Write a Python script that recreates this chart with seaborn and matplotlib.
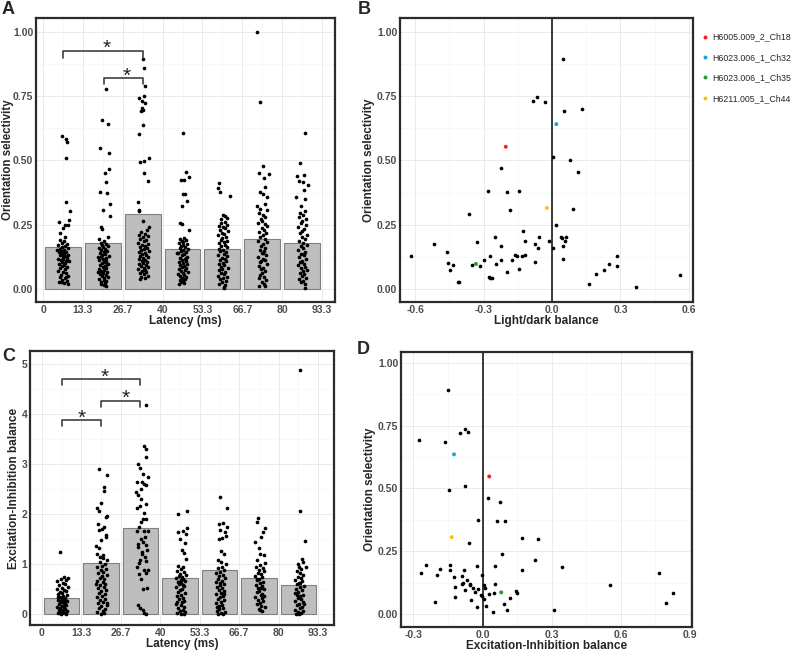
import pandas as pd
import seaborn as sns
import matplotlib.pyplot as plt
from matplotlib.ticker import FixedLocator

sns.set_theme(style="white")
plt.rcParams['font.family'] = ['Liberation Sans', 'DejaVu Sans']

# ---------------- data ----------------
bin_centers = [6.67, 20, 33.33, 46.67, 60, 73.33, 86.67]
lat_ticks = [0, 13.33, 26.67, 40, 53.33, 66.67, 80, 93.33]
lat_labels = ['0', '13.3', '26.7', '40', '53.3', '66.7', '80', '93.3']

os_means = [0.163, 0.177, 0.290, 0.157, 0.157, 0.196, 0.177]
ei_means = [0.32, 1.03, 1.72, 0.73, 0.88, 0.73, 0.59]

# (jitter offset in ms, value) per latency bin, orientation selectivity
os_bin1 = [(-0.5,.596),(0.9,.583),(1.3,.570),(0.9,.509),(0.9,.338),(2.2,.303),(1.9,.269),(-1.4,.259),(0.5,.247),(0.0,.236),(1.8,.250),(-0.9,.218),(0.8,.202),
           (-1.2,.190),(0.3,.185),(-0.5,.178),(1.2,.175),(-1.8,.170),(0.6,.168),(-0.2,.162),(1.5,.160),(-1.0,.155),(0.2,.152),(-0.6,.148),(1.0,.145),(-1.5,.142),(0.4,.140),(-0.3,.135),(1.7,.132),(-1.1,.130),(0.7,.127),(-0.1,.124),(1.3,.120),(-1.6,.118),(0.1,.115),(-0.8,.112),(1.1,.108),(-0.4,.105),(0.8,.100),(-1.3,.097),(0.3,.093),(-0.2,.088),(1.4,.085),(-0.9,.080),(0.5,.076),(-1.7,.070),(0.0,.066),(1.0,.060),(-0.6,.055),(1.6,.050),(-1.1,.046),(0.6,.042),(-0.3,.035),(1.2,.030),(-1.4,.026),(0.2,.022),(1.5,.020),(-0.7,.028),(0.9,.045),(-1.9,.150),(1.9,.110)]
os_bin2 = [(1.1,.778),(-0.2,.658),(1.7,.640),(-0.9,.549),(2.2,.530),(2.1,.465),(0.7,.451),(1.2,.417),(-1.1,.377),(1.5,.373),(2.3,.332),(0.0,.307),(2.3,.285),(-0.7,.242),(-0.4,.233),(1.8,.203),(-1.3,.194),
           (0.4,.185),(-0.8,.180),(1.0,.176),(-0.3,.172),(1.6,.168),(0.1,.164),(-1.2,.160),(0.8,.156),(-0.5,.150),(1.3,.147),(0.2,.143),(-1.0,.139),(0.6,.135),(-0.2,.131),(1.9,.128),(-0.7,.124),(0.9,.120),(0.0,.116),(-1.4,.112),(1.2,.108),(0.4,.104),(-0.4,.100),(1.5,.097),(-0.9,.093),(0.7,.090),(-0.1,.086),(1.1,.082),(-1.3,.078),(0.3,.074),(-0.6,.070),(1.4,.066),(0.0,.062),(-1.0,.058),(0.9,.054),(-0.3,.050),(1.7,.046),(0.5,.042),(-1.2,.038),(0.2,.034),(1.0,.030),(-0.5,.026),(0.7,.022),(-0.8,.018),(0.3,.014),(1.2,.010),(-1.5,.125),(1.8,.095),(-1.7,.065)]
os_bin3 = [(0.2,.896),(0.4,.860),(0.9,.790),(-1.3,.742),(0.4,.750),(-0.4,.732),(0.9,.722),(-0.2,.702),(-0.6,.693),(0.2,.697),(0.2,.636),(-1.3,.602),(2.0,.509),(-0.9,.495),(0.4,.497),(0.3,.451),(1.7,.421),(-1.5,.338),(-1.1,.308),(-1.3,.302),(0.2,.266),(2.1,.241),
           (1.5,.228),(-0.5,.222),(0.8,.215),(-1.2,.210),(1.9,.205),(0.1,.200),(-0.8,.195),(1.2,.190),(0.5,.185),(-1.5,.180),(1.6,.176),(-0.2,.172),(0.9,.168),(-1.0,.164),(1.3,.160),(0.3,.156),(-0.6,.152),(2.0,.148),(-1.4,.144),(0.6,.140),(-0.1,.136),(1.1,.132),(-0.9,.128),(1.7,.124),(0.2,.120),(-1.3,.116),(0.8,.112),(-0.4,.108),(1.4,.104),(0.0,.100),(-1.1,.096),(1.0,.092),(-0.7,.088),(1.8,.084),(0.4,.080),(-1.6,.076),(0.7,.072),(-0.3,.068),(1.2,.064),(-1.0,.060),(0.5,.056),(1.6,.052),(-0.5,.048),(0.9,.044),(-0.8,.040)]
os_bin4 = [(0.2,.605),(1.3,.453),(-0.4,.425),(0.4,.422),(2.3,.435),(0.3,.368),(0.9,.368),(1.6,.341),(-0.3,.321),(-0.9,.256),(-0.3,.253),(2.0,.231),
           (0.6,.198),(-0.8,.193),(1.2,.190),(-0.2,.186),(0.3,.182),(-1.3,.178),(1.5,.174),(0.0,.170),(-0.6,.166),(0.9,.162),(-1.0,.158),(1.8,.154),(0.2,.150),(-0.4,.146),(1.1,.142),(-1.5,.138),(0.5,.134),(-0.1,.130),(1.4,.126),(-0.9,.122),(0.7,.118),(-0.3,.114),(1.0,.110),(-1.2,.106),(0.1,.102),(1.6,.098),(-0.7,.094),(0.4,.090),(-0.2,.086),(1.2,.082),(-1.1,.078),(0.8,.074),(-0.5,.070),(1.9,.066),(0.0,.062),(-1.4,.058),(0.6,.054),(-0.8,.050),(1.3,.046),(-0.3,.042),(0.9,.038),(-1.0,.034),(0.3,.030),(-0.6,.026),(0.5,.022),(-1.3,.018),(1.1,.120),(-1.7,.140)]
os_bin5 = [(-1.1,.413),(-1.6,.392),(-0.9,.376),(2.5,.363),(0.3,.288),(1.0,.282),(-0.6,.270),(1.7,.276),
           (0.8,.262),(-0.4,.255),(1.5,.250),(-1.2,.245),(0.2,.240),(1.0,.235),(-0.8,.230),(1.8,.224),(-0.1,.218),(0.6,.213),(-1.5,.208),(1.2,.202),(0.0,.197),(-0.6,.192),(1.6,.187),(0.4,.182),(-1.0,.177),(0.9,.172),(-0.3,.167),(1.4,.162),(-1.3,.157),(0.1,.152),(-0.7,.147),(1.1,.142),(0.5,.137),(-1.6,.132),(1.7,.127),(-0.2,.122),(0.8,.117),(-0.9,.112),(1.3,.107),(0.2,.102),(-1.2,.097),(0.6,.092),(-0.5,.087),(1.9,.082),(0.0,.077),(-1.0,.072),(1.0,.067),(-0.4,.062),(0.7,.057),(-1.4,.052),(1.5,.047),(0.3,.042),(-0.8,.037),(1.2,.032),(-0.2,.027),(-1.1,.020),(0.9,.015),(0.4,.008),(0.6,.002)]
os_bin6 = [(-1.6,1.0),(-0.9,.728),(0.3,.479),(-1.0,.451),(2.2,.448),(0.7,.433),(0.9,.396),(-0.8,.376),(0.2,.370),(1.6,.358),(0.8,.329),(-1.7,.321),(-0.7,.312),(1.6,.307),
           (-1.2,.295),(0.4,.288),(1.1,.280),(-0.5,.272),(0.0,.265),(-1.5,.258),(0.9,.251),(1.7,.244),(-0.2,.237),(0.5,.230),(-1.0,.223),(1.3,.216),(0.1,.209),(-0.7,.202),(0.8,.195),(-1.3,.188),(1.5,.181),(0.3,.174),(-0.4,.167),(1.0,.160),(-0.9,.153),(0.6,.146),(-0.1,.139),(1.2,.132),(-1.4,.125),(0.2,.118),(0.9,.111),(-0.6,.104),(1.6,.097),(-1.1,.090),(0.4,.083),(-0.3,.076),(1.1,.069),(0.0,.062),(-0.8,.055),(0.7,.048),(-1.2,.041),(1.4,.034),(-0.2,.027),(0.5,.020),(-1.0,.013),(0.9,.013),(0.1,.140),(-0.5,.110)]
os_bin7 = [(0.9,.605),(-0.7,.488),(-1.7,.440),(0.8,.443),(-0.9,.418),(2.0,.405),(0.4,.415),(0.7,.383),(-2.1,.357),(1.1,.350),(-0.2,.321),
           (1.0,.305),(-0.6,.295),(0.3,.287),(-1.1,.280),(1.4,.272),(0.0,.264),(-0.4,.256),(1.2,.248),(-1.3,.240),(0.6,.232),(0.1,.224),(-0.8,.216),(1.5,.208),(-0.1,.200),(0.9,.193),(-1.0,.186),(0.4,.179),(1.7,.172),(-0.5,.165),(0.2,.158),(-1.4,.151),(1.1,.144),(-0.2,.137),(0.7,.130),(-0.9,.123),(1.3,.116),(0.0,.110),(-0.6,.104),(0.5,.098),(-1.2,.092),(1.0,.086),(-0.3,.080),(1.6,.074),(0.2,.068),(-0.8,.062),(0.8,.056),(-0.1,.050),(1.2,.044),(-1.0,.038),(0.4,.032),(-0.4,.025),(0.9,.018),(1.0,.003),(-0.5,.105),(0.6,.135)]

# (jitter offset in ms, value) per latency bin, excitation-inhibition balance
ei_bin1 = [(-0.6,1.24),(0.9,.74),(2.1,.73),(-0.3,.70),(1.6,.68),(-1.4,.66),(0.4,.63),(1.2,.60),(-0.8,.58),(2.0,.55),(0.0,.53),(-1.6,.50),(0.8,.48),(1.5,.46),(-0.4,.44),(0.2,.42),(-1.1,.40),(1.9,.38),(0.6,.36),(-0.7,.34),(1.1,.32),(0.1,.30),(-1.3,.29),(1.7,.27),(0.5,.25),(-0.2,.24),(0.9,.22),(-0.9,.20),(1.4,.19),(0.3,.17),(-1.5,.15),(0.7,.14),(-0.4,.12),(1.2,.11),(0.0,.09),(-1.0,.08),(1.8,.07),(0.5,.05),(-0.6,.04),(1.0,.03),(-1.3,.02),(0.2,.015),(1.5,.01),(-0.1,.005),(0.8,.28),(-0.5,.26),(1.3,.21),(-1.2,.35)]
ei_bin2 = [(-0.8,2.90),(2.0,2.78),(1.1,2.55),(1.0,2.46),(0.0,2.22),(-1.5,2.13),(-0.8,2.06),(1.6,1.95),(2.1,1.97),(-1.0,1.80),(1.1,1.75),(-0.8,1.68),(0.3,1.70),(1.7,1.58),(0.0,1.49),(-1.6,1.36),(-0.8,1.32),(-1.2,1.20),(0.8,1.19),(2.0,1.09),
           (-0.4,1.04),(1.2,1.00),(0.3,0.97),(-1.3,0.94),(1.6,0.91),(-0.1,0.88),(0.7,0.85),(-0.9,0.82),(1.9,0.79),(0.2,0.76),(-0.5,0.73),(1.1,0.70),(-1.5,0.67),(0.5,0.64),(1.4,0.61),(-0.2,0.58),(0.9,0.55),(-1.1,0.52),(1.7,0.49),(0.0,0.46),(-0.7,0.43),(1.2,0.40),(0.4,0.37),(-1.4,0.34),(1.5,0.31),(-0.3,0.28),(0.8,0.25),(-1.0,0.22),(1.9,0.19),(0.1,0.16),(-0.6,0.13),(1.3,0.10),(0.6,0.07),(-1.2,0.04),(0.9,0.02),(-0.1,0.0),(1.6,1.55),(-0.3,1.15),(0.5,1.12),(-1.7,0.60),(2.1,0.22)]
ei_bin3 = [(1.7,4.18),(1.2,3.36),(1.8,3.30),(2.0,3.14),(-0.8,3.0),(-0.2,2.93),(2.4,2.74),(-1.3,2.65),(0.6,2.64),(1.1,2.60),(2.0,2.58),(0.1,2.50),(-0.8,2.38),(2.0,2.21),(-1.3,2.13),(-0.1,2.16),(1.2,2.02),(0.8,1.90),(1.7,1.90),(-1.1,1.66),(1.3,1.66),(2.4,1.66),(0.1,1.50),(0.9,1.45),(-1.0,1.41),(2.2,1.29),(0.6,1.25),(-0.1,1.09),(1.7,1.07),(-1.2,0.95),(1.1,0.88),(2.4,0.88),(-0.6,0.80),(1.7,0.83),(0.9,0.51),(2.2,0.53),(-1.0,0.19),(-0.2,0.13),(1.0,0.09),(1.3,0.03),(2.0,0.01),
           (0.3,1.85),(-0.5,1.75),(1.5,1.55),(-0.9,1.35),(0.4,1.20),(1.4,1.15),(-0.4,1.02),(0.2,0.70),(1.9,1.38),(-1.4,2.45),(0.8,2.80),(0.3,2.30)]
ei_bin4 = [(-0.6,2.0),(2.5,2.06),(0.9,1.66),(-0.6,1.65),(2.4,1.72),(2.1,1.60),(0.0,1.50),(1.7,1.43),(0.6,1.28),(1.5,1.23),(2.2,1.10),(-0.6,0.97),(0.9,0.95),
           (0.3,0.90),(-1.1,0.87),(1.3,0.84),(0.0,0.81),(1.9,0.78),(-0.5,0.76),(0.7,0.74),(-1.4,0.72),(1.1,0.70),(0.2,0.68),(1.6,0.66),(-0.8,0.64),(0.5,0.62),(-0.2,0.60),(1.4,0.57),(-1.2,0.54),(0.8,0.51),(0.1,0.48),(-0.6,0.45),(1.7,0.42),(0.4,0.39),(-1.0,0.36),(1.0,0.33),(-0.3,0.30),(1.5,0.27),(0.6,0.24),(-1.3,0.21),(0.2,0.18),(1.2,0.15),(-0.7,0.12),(0.9,0.09),(-0.1,0.06),(1.8,0.04),(-1.1,0.02),(0.4,0.01),(1.3,0.00),(-0.4,0.65),(1.0,0.58),(-0.9,0.25)]
ei_bin5 = [(0.1,2.34),(2.5,2.12),(-0.2,1.80),(1.2,1.82),(2.4,1.74),(0.1,1.68),(1.9,1.65),(2.1,1.56),(1.0,1.53),(-0.3,1.50),(1.5,1.21),(0.6,1.27),(0.5,1.05),(-0.4,1.08),(2.1,1.01),
           (0.9,0.95),(-0.6,0.92),(1.5,0.88),(0.2,0.85),(-1.1,0.82),(1.2,0.79),(0.0,0.76),(1.8,0.73),(-0.4,0.70),(0.7,0.67),(-1.3,0.64),(1.4,0.61),(0.3,0.58),(-0.8,0.55),(1.0,0.52),(-0.1,0.49),(1.7,0.46),(0.5,0.43),(-1.0,0.40),(1.1,0.37),(0.1,0.34),(-0.6,0.31),(1.6,0.28),(0.4,0.25),(-1.2,0.22),(0.8,0.19),(-0.3,0.16),(1.3,0.13),(0.0,0.10),(-0.9,0.07),(1.9,0.05),(0.6,0.03),(-0.5,0.01),(1.1,0.00),(0.3,0.62),(1.4,0.40),(-0.7,0.15)]
ei_bin6 = [(-0.3,1.92),(-0.8,1.84),(2.2,1.73),(1.5,1.64),(0.6,1.54),(-1.3,1.45),(0.2,1.32),(0.3,1.21),(1.6,1.18),(-0.7,1.09),(2.0,1.03),
           (0.5,0.98),(-0.9,0.95),(1.3,0.92),(0.0,0.89),(1.8,0.86),(-0.4,0.83),(0.8,0.80),(-1.2,0.77),(1.1,0.74),(0.2,0.71),(-0.6,0.68),(1.5,0.65),(0.4,0.62),(-1.0,0.59),(0.9,0.56),(-0.2,0.53),(1.7,0.50),(0.1,0.47),(-0.8,0.44),(1.2,0.41),(0.6,0.38),(-1.4,0.35),(1.0,0.32),(-0.3,0.29),(1.4,0.26),(0.3,0.23),(-0.7,0.20),(0.8,0.17),(1.9,0.14),(-0.1,0.11),(0.5,0.08),(1.2,0.06),(-0.5,0.70),(0.7,0.52),(1.6,0.36)]
ei_bin7 = [(0.7,4.89),(0.7,2.06),(2.4,1.47),(1.3,1.11),(1.7,1.04),(-0.3,1.01),(0.3,0.94),(2.5,0.95),
           (1.0,0.90),(-0.6,0.86),(0.5,0.82),(1.6,0.78),(-0.1,0.75),(0.9,0.72),(-1.0,0.69),(1.3,0.66),(0.2,0.63),(-0.5,0.60),(1.8,0.57),(0.7,0.54),(-0.8,0.51),(1.1,0.48),(0.0,0.45),(-1.2,0.42),(1.5,0.39),(0.4,0.36),(-0.3,0.33),(0.9,0.30),(-1.0,0.27),(1.7,0.24),(0.1,0.21),(-0.6,0.18),(1.2,0.15),(0.6,0.12),(-1.3,0.09),(1.4,0.07),(-0.2,0.05),(0.8,0.03),(-0.9,0.01),(0.3,0.00),(1.9,0.20),(-0.4,0.38),(0.5,0.62)]

# (light/dark balance, orientation selectivity)
ld_points = [(0.050,.896),(-0.082,.732),(-0.067,.745),(-0.032,.727),(0.054,.693),(0.133,.698),(0.003,.514),(0.080,.501),(-0.226,.470),(0.115,.455),
             (-0.283,.381),(-0.199,.377),(-0.144,.382),(-0.185,.307),(0.092,.310),(-0.364,.291),(0.015,.249),(-0.128,.224),(-0.517,.175),(-0.328,.184),
             (-0.251,.202),(-0.118,.187),(-0.057,.203),(-0.077,.174),(-0.061,.161),(-0.015,.185),(-0.223,.165),(0.039,.201),(0.045,.197),(0.061,.203),
             (0.055,.188),(0.003,.159),(0.050,.165),(-0.459,.145),(-0.618,.127),(-0.274,.128),(-0.162,.131),(-0.153,.128),(-0.130,.127),(-0.118,.131),
             (-0.299,.111),(-0.222,.111),(-0.174,.113),(0.048,.118),(-0.077,.104),(-0.455,.102),(-0.433,.093),(-0.449,.075),(-0.351,.093),(-0.318,.088),
             (-0.244,.095),(-0.146,.076),(-0.197,.067),(-0.277,.048),(-0.274,.041),(-0.262,.044),(-0.414,.028),(-0.410,.026),(0.283,.128),(0.284,.089),
             (0.251,.098),(0.229,.074),(0.191,.058),(0.163,.019),(0.367,.008),(0.563,.054)]

# (excitation-inhibition balance, orientation selectivity)
ei_points = [(-0.149,.892),(-0.275,.693),(-0.162,.686),(-0.097,.721),(-0.075,.739),(-0.062,.725),(-0.075,.508),(-0.145,.493),(0.025,.461),(0.077,.447),
             (-0.019,.374),(0.062,.372),(0.097,.370),(-0.061,.283),(0.173,.301),(0.240,.299),(0.085,.239),(0.228,.214),(0.344,.186),(0.171,.174),
             (0.056,.191),(-0.023,.190),(-0.247,.194),(-0.266,.164),(-0.186,.178),(-0.198,.154),(-0.143,.194),(-0.142,.176),(-0.081,.176),(-0.126,.149),
             (-0.090,.150),(-0.068,.134),(-0.088,.118),(-0.084,.122),(-0.056,.120),(-0.053,.116),(-0.042,.102),(-0.033,.089),(-0.075,.094),(-0.120,.108),
             (-0.120,.066),(-0.019,.101),(-0.003,.154),(0.007,.116),(0.012,.102),(-0.007,.077),(-0.001,.072),(0.007,.061),(0.029,.078),(0.048,.084),
             (0.056,.118),(0.146,.092),(0.149,.082),(0.120,.064),(0.092,.041),(0.107,.015),(0.046,.008),(0.014,.032),(-0.025,.029),(-0.052,.056),
             (-0.207,.048),(0.311,.016),(0.553,.117),(0.766,.165),(0.827,.082),(0.798,.044)]

# highlighted example neurons
neurons = ['H6005.009_2_Ch18', 'H6023.006_1_Ch32', 'H6023.006_1_Ch35', 'H6211.005_1_Ch44']
neuron_colors = ['#ff1a1a', '#1e9be8', '#1a9e2e', '#ffbf00']
neuron_ld = [-0.203, 0.019, -0.334, -0.023]
neuron_ei = [0.029, -0.124, 0.081, -0.134]
neuron_os_b = [0.553, 0.641, 0.097, 0.315]
neuron_os_d = [0.548, 0.636, 0.086, 0.306]

os_bins = [os_bin1, os_bin2, os_bin3, os_bin4, os_bin5, os_bin6, os_bin7]
ei_bins = [ei_bin1, ei_bin2, ei_bin3, ei_bin4, ei_bin5, ei_bin6, ei_bin7]

LAB = dict(fontsize=8.5, fontweight='bold')


def strip_frame(groups):
    rows = [(c + dx, v) for c, g in zip(bin_centers, groups) for dx, v in g]
    return pd.DataFrame(rows, columns=['latency', 'value'])


def style(ax):
    ax.set_facecolor('white')
    for s in ax.spines.values():
        s.set_color('#2b2b2b')
        s.set_linewidth(1.6)
    ax.grid(True, which='major', color='#ebebeb', lw=0.7)
    ax.grid(True, which='minor', color='#f5f5f5', lw=0.5)
    ax.set_axisbelow(True)
    ax.tick_params(which='major', labelsize=7.5, labelcolor='#4d4d4d', length=1.2,
                   width=0.6, color='#4d4d4d', pad=0.8)
    ax.tick_params(which='minor', length=0)
    for lab in ax.get_xticklabels() + ax.get_yticklabels():
        lab.set_fontweight('bold')


def bracket(ax, x1, x2, y, tip, sx, sy):
    ax.plot([x1, x1, x2, x2], [y - tip, y, y, y - tip], color='#404040', lw=1.2)
    ax.annotate('*', (sx, sy), xytext=(0, -8), textcoords='offset points',
                ha='center', va='baseline', fontsize=15, color='#222222')


def latency_panel(ax, groups, means, ylabel):
    sns.barplot(x=bin_centers, y=means, native_scale=True, width=0.9, color='#bebebe',
                edgecolor='#808080', linewidth=0.8, saturation=1, errorbar=None, ax=ax)
    df = strip_frame(groups)
    sns.scatterplot(data=df, x='latency', y='value', color='black', s=7, linewidth=0, ax=ax)
    ax.set_xticks(lat_ticks, lat_labels)
    ax.xaxis.set_minor_locator(FixedLocator(bin_centers))
    ax.set_xlabel('Latency (ms)', labelpad=0.5, **LAB)
    ax.set_ylabel(ylabel, labelpad=1, **LAB)


fig = plt.figure(figsize=(8, 6.52), dpi=100)
ax_a = fig.add_axes([36/800, 1 - 302/652, 299/800, 284/652])
ax_b = fig.add_axes([400/800, 1 - 302/652, 293/800, 284/652])
ax_c = fig.add_axes([30/800, 1 - 625/652, 304/800, 274/652])
ax_d = fig.add_axes([401/800, 1 - 627/652, 291/800, 275/652])

# A
latency_panel(ax_a, os_bins, os_means, 'Orientation selectivity')
ax_a.yaxis.label.set_fontsize(8.3)
ax_a.yaxis.set_label_coords(-0.075, 0.5)
ax_a.set_xlim(-2.4, 97.7)
ax_a.set_ylim(-0.051, 1.054)
ax_a.set_yticks([0, 0.25, 0.5, 0.75, 1.0], ['0.00', '0.25', '0.50', '0.75', '1.00'])
ax_a.yaxis.set_minor_locator(FixedLocator([0.125, 0.375, 0.625, 0.875]))
bracket(ax_a, 6.67, 33.33, 0.927, 0.027, 21.3, 0.958)
bracket(ax_a, 20.3, 33.33, 0.819, 0.022, 27.9, 0.848)
style(ax_a)

# C
latency_panel(ax_c, ei_bins, ei_means, 'Excitation-Inhibition balance')
ax_c.set_xlim(-4.0, 98.7)
ax_c.set_ylim(-0.22, 5.26)
ax_c.set_yticks([0, 1, 2, 3, 4, 5], ['0', '1', '2', '3', '4', '5'])
ax_c.yaxis.set_minor_locator(FixedLocator([0.5, 1.5, 2.5, 3.5, 4.5]))
bracket(ax_c, 6.67, 33.33, 4.69, 0.12, 21.3, 4.84)
bracket(ax_c, 20.0, 33.33, 4.26, 0.11, 28.4, 4.43)
bracket(ax_c, 6.67, 20.0, 3.88, 0.11, 13.5, 4.02)
style(ax_c)

# B
ld = pd.DataFrame(ld_points, columns=['balance', 'os'])
ax_b.axvline(0, color='#2b2b2b', lw=1.3, zorder=1)
sns.scatterplot(data=ld, x='balance', y='os', color='black', s=7, linewidth=0, ax=ax_b)
hb = pd.DataFrame({'balance': neuron_ld, 'os': neuron_os_b, 'neuron': neurons})
sns.scatterplot(data=hb, x='balance', y='os', hue='neuron', hue_order=neurons,
                palette=dict(zip(neurons, neuron_colors)), s=8, linewidth=0, ax=ax_b)
sns.move_legend(ax_b, 'upper left', bbox_to_anchor=(1.012, 0.97), frameon=False, title=None,
                handlelength=0.6, handletextpad=0.5, labelspacing=1.3, borderaxespad=0.3,
                prop={'family': 'Liberation Sans', 'size': 6.3})
ax_b.set_xlim(-0.667, 0.618)
ax_b.set_ylim(-0.051, 1.054)
ax_b.set_xticks([-0.6, -0.3, 0, 0.3, 0.6], ['-0.6', '-0.3', '0.0', '0.3', '0.6'])
ax_b.xaxis.set_minor_locator(FixedLocator([-0.45, -0.15, 0.15, 0.45]))
ax_b.set_yticks([0, 0.25, 0.5, 0.75, 1.0], ['0.00', '0.25', '0.50', '0.75', '1.00'])
ax_b.yaxis.set_minor_locator(FixedLocator([0.125, 0.375, 0.625, 0.875]))
ax_b.set_xlabel('Light/dark balance', labelpad=0.5, **LAB)
ax_b.set_ylabel('Orientation selectivity', labelpad=1, **LAB)
style(ax_b)

# D
eb = pd.DataFrame(ei_points, columns=['balance', 'os'])
ax_d.axvline(0, color='#2b2b2b', lw=1.3, zorder=1)
sns.scatterplot(data=eb, x='balance', y='os', color='black', s=7, linewidth=0, ax=ax_d)
hd = pd.DataFrame({'balance': neuron_ei, 'os': neuron_os_d, 'neuron': neurons})
sns.scatterplot(data=hd, x='balance', y='os', hue='neuron', hue_order=neurons,
                palette=dict(zip(neurons, neuron_colors)), s=8, linewidth=0, legend=False, ax=ax_d)
ax_d.set_xlim(-0.354, 0.909)
ax_d.set_ylim(-0.052, 1.044)
ax_d.set_xticks([-0.3, 0, 0.3, 0.6, 0.9], ['-0.3', '0.0', '0.3', '0.6', '0.9'])
ax_d.xaxis.set_minor_locator(FixedLocator([-0.15, 0.15, 0.45, 0.75]))
ax_d.set_yticks([0, 0.25, 0.5, 0.75, 1.0], ['0.00', '0.25', '0.50', '0.75', '1.00'])
ax_d.yaxis.set_minor_locator(FixedLocator([0.125, 0.375, 0.625, 0.875]))
ax_d.set_xlabel('Excitation-Inhibition balance', labelpad=0.5, **LAB)
ax_d.set_ylabel('Orientation selectivity', labelpad=1, **LAB)
style(ax_d)

# panel letters
for lab, x, y in [('A', 2, 9), ('B', 358, 9), ('C', 2, 357), ('D', 357, 350)]:
    fig.text(x/800, 1 - y/652, lab, fontsize=13, fontweight='bold', va='center', ha='left')

fig.savefig('out.png', dpi=100)
